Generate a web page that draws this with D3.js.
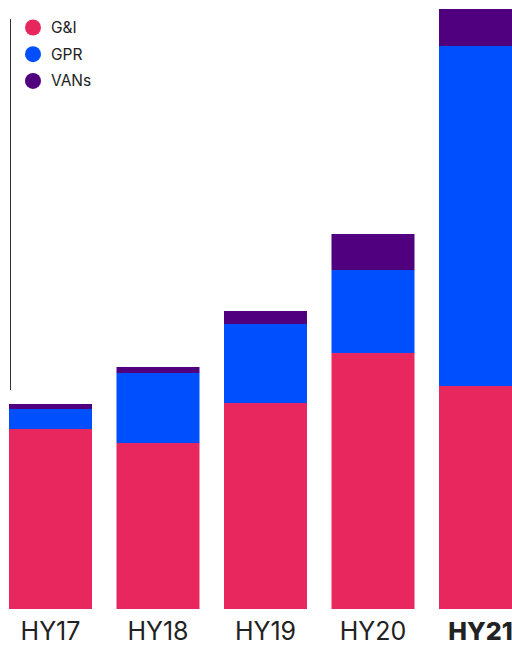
<!DOCTYPE html>
<html>
<head>
<meta charset="utf-8">
<script src="https://cdn.jsdelivr.net/npm/d3@7"></script>
<style>
  html, body { margin: 0; padding: 0; background: #fff; overflow: hidden; }
  svg { display: block; }
  text { font-family: Inter, "Noto Sans", sans-serif; fill: #222; }
</style>
</head>
<body>
<svg id="chart" width="512" height="648"></svg>
<script>
// Half-year periods and the three revenue segments stacked in each bar
const periods = ["HY17", "HY18", "HY19", "HY20", "HY21"];
const seriesNames = ["G&I", "GPR", "VANs"];
const giValues   = [180, 166, 206, 256, 223];
const gprValues  = [20, 70, 79, 83, 340];
const vansValues = [5, 6, 13, 36, 37];
const seriesColors = ["#E8275E", "#004FFF", "#50007F"];
const highlightPeriod = "HY21";

const rows = periods.map((p, i) => ({
  period: p,
  "G&I": giValues[i],
  "GPR": gprValues[i],
  "VANs": vansValues[i]
}));

const svg = d3.select("#chart");

// The plot runs a little past the right edge of the page, so the last bar is cut
const x = d3.scaleBand()
  .domain(periods)
  .range([9, 522])
  .paddingInner(0.228)
  .paddingOuter(0);

const y = d3.scaleLinear()
  .domain([0, 600])
  .range([609, 9]);

const color = d3.scaleOrdinal().domain(seriesNames).range(seriesColors);

const stacked = d3.stack().keys(seriesNames)(rows);

svg.append("g")
  .selectAll("g")
  .data(stacked)
  .join("g")
  .attr("fill", d => color(d.key))
  .selectAll("rect")
  .data(d => d)
  .join("rect")
  .attr("x", d => x(d.data.period))
  .attr("width", x.bandwidth())
  .attr("y", d => y(d[1]))
  .attr("height", d => y(d[0]) - y(d[1]));

// Thin vertical rule on the left
svg.append("line")
  .attr("x1", 10.5).attr("x2", 10.5)
  .attr("y1", 19).attr("y2", 390)
  .attr("stroke", "#333")
  .attr("stroke-width", 1);

// Period labels under the bars
const xAxis = svg.append("g")
  .attr("transform", `translate(0,${y(0)})`)
  .call(d3.axisBottom(x).tickSize(0).tickPadding(0));
xAxis.select(".domain").remove();
xAxis.selectAll("text")
  .attr("y", 31)
  .attr("dy", 0)
  .style("font-size", "25px")
  .style("font-family", "Inter, 'Noto Sans', sans-serif")
  .style("font-weight", d => d === highlightPeriod ? 800 : 400)
  .attr("fill", "#222");

// Legend
const legend = svg.append("g")
  .selectAll("g")
  .data(seriesNames)
  .join("g")
  .attr("transform", (d, i) => `translate(33,${27.5 + i * 26.7})`);

legend.append("circle")
  .attr("r", 8)
  .attr("fill", d => color(d));

legend.append("text")
  .attr("x", 18)
  .attr("dy", "0.36em")
  .style("font-size", "15.5px")
  .text(d => d);
</script>
</body>
</html>
